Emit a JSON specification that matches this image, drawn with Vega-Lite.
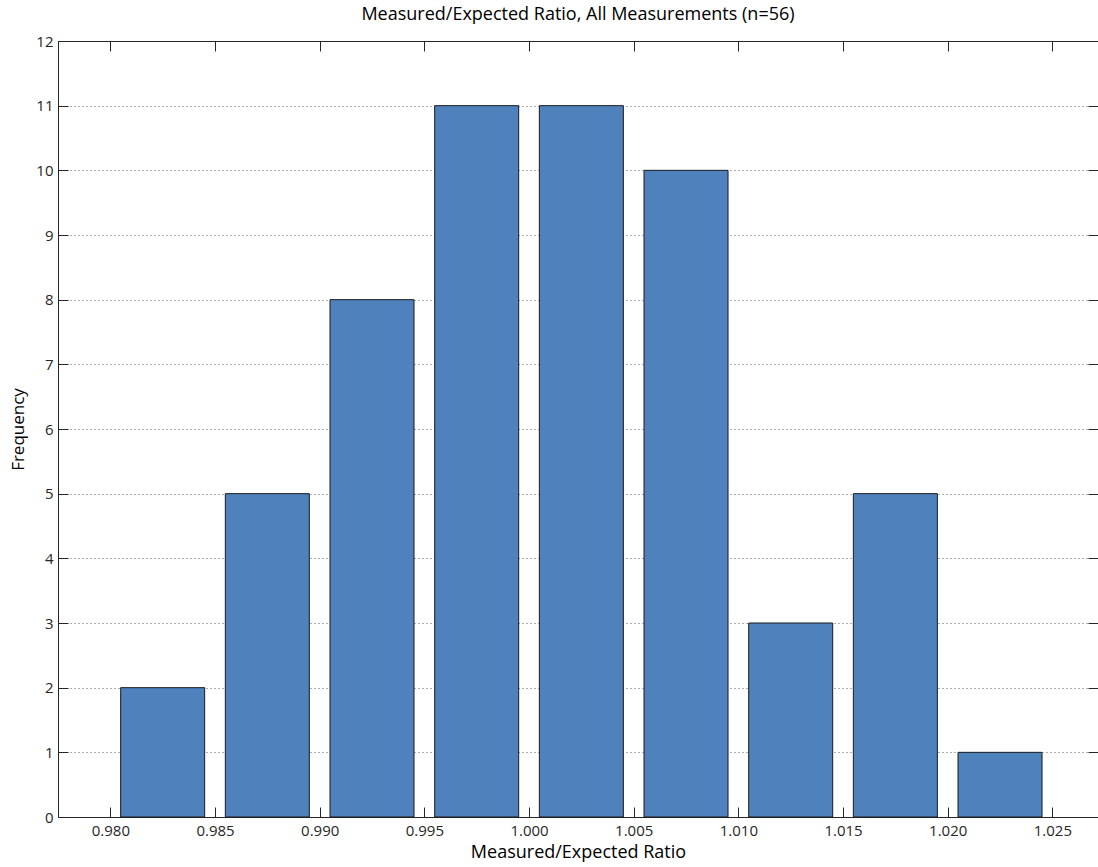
{
  "$schema": "https://vega.github.io/schema/vega-lite/v6.json",
  "autosize": {"type": "none"},
  "padding": {"left": 58, "top": 41, "right": 0, "bottom": 50},
  "width": 1040,
  "height": 776,
  "background": "white",
  "config": {
    "view": {"stroke": null},
    "font": "Open Sans",
    "axis": {
      "labelFont": "Open Sans",
      "labelFontSize": 15,
      "labelColor": "#262626",
      "titleFont": "Open Sans",
      "titleFontSize": 17,
      "titleFontWeight": "normal",
      "titleColor": "#000000",
      "domainColor": "#262626",
      "tickColor": "#262626",
      "domainWidth": 1,
      "tickWidth": 1
    }
  },
  "title": {
    "text": "Measured/Expected Ratio, All Measurements (n=56)",
    "font": "Open Sans",
    "fontSize": 18,
    "fontWeight": "normal",
    "color": "#000000",
    "anchor": "middle",
    "offset": 10
  },
  "data": {
    "values": [
      {"ratio": 0.9825, "count": 2},
      {"ratio": 0.9875, "count": 5},
      {"ratio": 0.9925, "count": 8},
      {"ratio": 0.9975, "count": 11},
      {"ratio": 1.0025, "count": 11},
      {"ratio": 1.0075, "count": 10},
      {"ratio": 1.0125, "count": 3},
      {"ratio": 1.0175, "count": 5},
      {"ratio": 1.0225, "count": 1}
    ]
  },
  "layer": [
    {
      "mark": {"type": "bar", "width": 84, "fill": "#4F81BD", "stroke": "#1a1a1a", "strokeWidth": 1},
      "encoding": {
        "x": {
          "field": "ratio", "type": "quantitative",
          "scale": {"domain": [0.9775, 1.02718], "nice": false, "zero": false, "padding": 0},
          "axis": {
            "orient": "bottom", "title": "Measured/Expected Ratio",
            "values": [0.98, 0.985, 0.99, 0.995, 1.0, 1.005, 1.01, 1.015, 1.02, 1.025],
            "format": ".3f", "tickSize": -10, "labelPadding": 16, "grid": false,
            "titlePadding": 5, "titleFontSize": 18, "labelFlush": false
          }
        },
        "y": {
          "field": "count", "type": "quantitative",
          "scale": {"domain": [0, 12], "nice": false, "padding": 0},
          "axis": {
            "orient": "left", "title": "Frequency",
            "values": [0,1,2,3,4,5,6,7,8,9,10,11,12],
            "tickSize": -10, "labelPadding": 15, "grid": true,
            "gridDash": [1, 3], "gridColor": "#333333", "gridWidth": 1, "gridOpacity": 0.8,
            "titlePadding": 8, "labelFlush": false
          }
        }
      }
    },
    {
      "mark": {"type": "bar", "width": 84, "opacity": 0},
      "encoding": {
        "x": {
          "field": "ratio", "type": "quantitative",
          "axis": {
            "orient": "top", "title": null, "labels": false,
            "values": [0.98, 0.985, 0.99, 0.995, 1.0, 1.005, 1.01, 1.015, 1.02, 1.025],
            "tickSize": -10, "grid": false
          }
        },
        "y": {
          "field": "count", "type": "quantitative",
          "axis": {
            "orient": "right", "title": null, "labels": false,
            "values": [0,1,2,3,4,5,6,7,8,9,10,11,12],
            "tickSize": -10, "grid": false, "domain": false
          }
        }
      }
    }
  ],
  "resolve": {"axis": {"x": "independent", "y": "independent"}}
}
